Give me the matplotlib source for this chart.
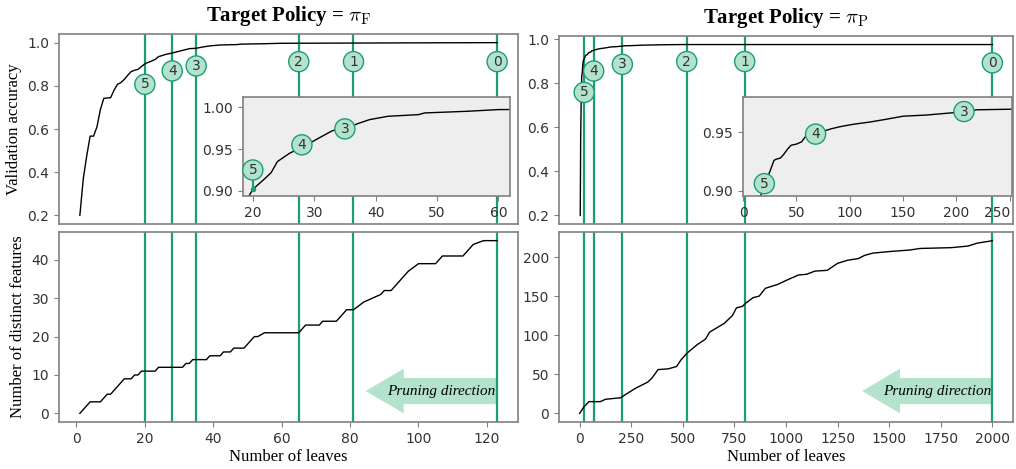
import matplotlib
matplotlib.use("Agg")
import matplotlib.pyplot as plt
from matplotlib.patches import FancyArrow

# ---- data ----
accF_x = [1, 2, 3, 4, 5, 6, 7, 8, 10, 11, 12, 13, 14, 15, 16, 17, 18, 20, 22, 23, 24, 25, 26, 28,
          30, 33, 35, 37, 39, 42, 47, 48, 55, 60, 80, 100, 123]
accF_y = [0.20, 0.37, 0.475, 0.567, 0.567, 0.61, 0.69, 0.742, 0.745, 0.78, 0.807, 0.815, 0.83, 0.849,
          0.866, 0.872, 0.876, 0.902, 0.915, 0.922, 0.935, 0.94, 0.945, 0.952, 0.96, 0.972, 0.974,
          0.98, 0.985, 0.989, 0.991, 0.993, 0.995, 0.997, 0.998, 0.999, 1.0]

featF_x = [1, 4, 7, 9, 10, 14, 16, 17, 18, 19, 23, 24, 31, 32, 33, 34, 38, 39, 42, 43, 45, 46, 49,
           52, 53, 55, 65, 67, 71, 72, 76, 79, 81, 84, 89, 90, 92, 97, 100, 105, 107, 113, 116, 119, 123]
featF_y = [0, 3, 3, 5, 5, 9, 9, 10, 10, 11, 11, 12, 12, 13, 13, 14, 14, 15, 15, 16, 16, 17, 17,
           20, 20, 21, 21, 23, 23, 24, 24, 27, 27, 29, 31, 32, 32, 37, 39, 39, 41, 41, 44, 45, 45]

accP_x = [3, 5, 8, 10, 13, 15, 17, 20, 25, 29, 31, 35, 38, 42, 45, 50, 55, 58, 68, 75, 82, 91, 103,
          119, 135, 150, 172, 197, 207, 219, 251, 300, 400, 500, 800, 1200, 1600, 2000]
accP_y = [0.20, 0.55, 0.75, 0.83, 0.85, 0.88, 0.897, 0.906, 0.916, 0.926, 0.927, 0.928, 0.931,
          0.936, 0.939, 0.94, 0.942, 0.946, 0.9486, 0.951, 0.953, 0.955, 0.957, 0.959, 0.9615,
          0.964, 0.965, 0.967, 0.968, 0.9695, 0.970, 0.972, 0.974, 0.975, 0.975, 0.975, 0.975, 0.975]

featP_x = [0, 20, 45, 100, 125, 200, 210, 270, 330, 350, 380, 430, 470, 490, 520, 570, 610, 630,
           700, 740, 760, 790, 800, 840, 870, 900, 960, 1000, 1060, 1100, 1140, 1200, 1250, 1300,
           1350, 1380, 1420, 1500, 1600, 1650, 1800, 1880, 1930, 1980, 2000]
featP_y = [0, 8, 15, 15, 18, 20, 22, 32, 40, 45, 56, 57, 60, 68, 77, 88, 95, 104, 115, 125, 135,
           137, 140, 148, 150, 160, 165, 170, 177, 178, 182, 183, 192, 196, 198, 202, 205, 207,
           209, 211, 212, 214, 218, 220, 221]

cut_labels = ["5", "4", "3", "2", "1", "0"]
cutsF = [20, 28, 35, 65, 81, 123]
cutsP = [22, 68, 207, 519, 800, 2000]
labF_y = [0.807, 0.869, 0.892, 0.912, 0.912, 0.912]
labP_y = [0.758, 0.855, 0.885, 0.898, 0.898, 0.892]

insF_x = [20, 28, 35]
insF_y = [0.925, 0.955, 0.974]
insP_x = [20, 68, 207]
insP_y = [0.906, 0.9486, 0.968]
insF_labels = ["5", "4", "3"]

GREEN = "#1b9e77"
MINT = "#b3e2cd"
SPINE = "#808080"
SERIF = ["Liberation Serif", "DejaVu Serif"]

plt.rcParams["mathtext.fontset"] = "cm"
plt.rcParams["axes.edgecolor"] = SPINE
plt.rcParams["axes.linewidth"] = 1.2
plt.rcParams["xtick.color"] = SPINE
plt.rcParams["ytick.color"] = SPINE
plt.rcParams["xtick.labelcolor"] = "#333333"
plt.rcParams["ytick.labelcolor"] = "#333333"
plt.rcParams["xtick.labelsize"] = 10
plt.rcParams["ytick.labelsize"] = 10

fig = plt.figure(figsize=(10.16, 4.69), dpi=100)
W, H = 1016, 469


def px_axes(x0, y0, x1, y1):
    return fig.add_axes([x0 / W, 1 - y1 / H, (x1 - x0) / W, (y1 - y0) / H])


def circ(ax, x, y, s, zorder=5):
    ax.text(x, y, s, ha="center", va="center", fontsize=10, color="#333333", zorder=zorder,
            bbox=dict(boxstyle="circle,pad=0.22", fc=MINT, ec=GREEN, lw=1.0))


axA = px_axes(59, 34, 518, 224)
axB = px_axes(59, 232, 518, 422)
axC = px_axes(559, 36, 1013, 224)
axD = px_axes(559, 232, 1013, 422)
for a, b in [(axA, axB), (axC, axD)]:
    a.sharex(b)
    a.tick_params(axis="x", bottom=False, labelbottom=False)

axA.plot(accF_x, accF_y, color="black", lw=1, zorder=3)
axB.plot(featF_x, featF_y, color="black", lw=1, zorder=3)
axC.plot(accP_x, accP_y, color="black", lw=1, zorder=3)
axD.plot(featP_x, featP_y, color="black", lw=1, zorder=3)

for top, bot, cuts, laby in [(axA, axB, cutsF, labF_y), (axC, axD, cutsP, labP_y)]:
    for c, ly, s in zip(cuts, laby, cut_labels):
        top.axvline(c, color=GREEN, lw=1.6, zorder=2)
        bot.axvline(c, color=GREEN, lw=1.6, zorder=2)
        circ(top, c, ly, s)

axA.set_yticks([0.2, 0.4, 0.6, 0.8, 1.0])
axC.set_yticks([0.2, 0.4, 0.6, 0.8, 1.0])
axB.set_yticks([0, 10, 20, 30, 40])
axB.set_xticks([0, 20, 40, 60, 80, 100, 120])
axD.set_yticks([0, 50, 100, 150, 200])
axD.set_xticks([0, 250, 500, 750, 1000, 1250, 1500, 1750, 2000])

axA.set_ylabel("Validation accuracy", family=SERIF, fontsize=12)
axB.set_ylabel("Number of distinct features", family=SERIF, fontsize=12)
axB.set_xlabel("Number of leaves", family=SERIF, fontsize=12, labelpad=2)
axD.set_xlabel("Number of leaves", family=SERIF, fontsize=12, labelpad=2)
axA.set_title(r"Target Policy = $\pi_{\mathrm{F}}$", family=SERIF, fontsize=15,
              fontweight="bold", pad=9)
axC.set_title(r"Target Policy = $\pi_{\mathrm{P}}$", family=SERIF, fontsize=15,
              fontweight="bold", pad=9)

# pruning direction arrows
for ax in [axB, axD]:
    ax.add_patch(FancyArrow(0.955, 0.163, -0.287, 0, width=0.138, head_width=0.235,
                            head_length=0.083, length_includes_head=True,
                            transform=ax.transAxes, fc=MINT, ec="none", zorder=1))
    ax.text(0.832, 0.163, "Pruning direction", transform=ax.transAxes, ha="center",
            va="center", family=SERIF, style="italic", fontsize=11, zorder=4)

# insets
insA = px_axes(243, 97, 510, 196)
insA.set_facecolor("#eeeeee")
insA.plot(accF_x, accF_y, color="black", lw=1)
insA.set_xlim(18.4, 61.9)
insA.set_ylim(0.894, 1.012)
insA.set_xticks([20, 30, 40, 50, 60])
insA.set_yticks([0.90, 0.95, 1.00])
insA.set_yticklabels(["0.90", "0.95", "1.00"])
insA.plot([20, 20], [0.902, 0.918], color=GREEN, lw=1.5)
insA.plot([20], [0.902], "o", color=GREEN, ms=3)
for x, y, s in zip(insF_x, insF_y, insF_labels):
    circ(insA, x, y, s)

insC = px_axes(743, 97, 1012, 196)
insC.set_facecolor("#eeeeee")
insC.plot(accP_x, accP_y, color="black", lw=1)
insC.set_xlim(0, 252)
insC.set_ylim(0.8954, 0.9805)
insC.set_xticks([0, 50, 100, 150, 200, 250])
insC.set_yticks([0.90, 0.95])
insC.set_yticklabels(["0.90", "0.95"])
insC.get_xticklabels()[-1].set_horizontalalignment("right")
for x, y, s in zip(insP_x, insP_y, insF_labels):
    circ(insC, x, y, s)

fig.savefig("out.png", dpi=100)
